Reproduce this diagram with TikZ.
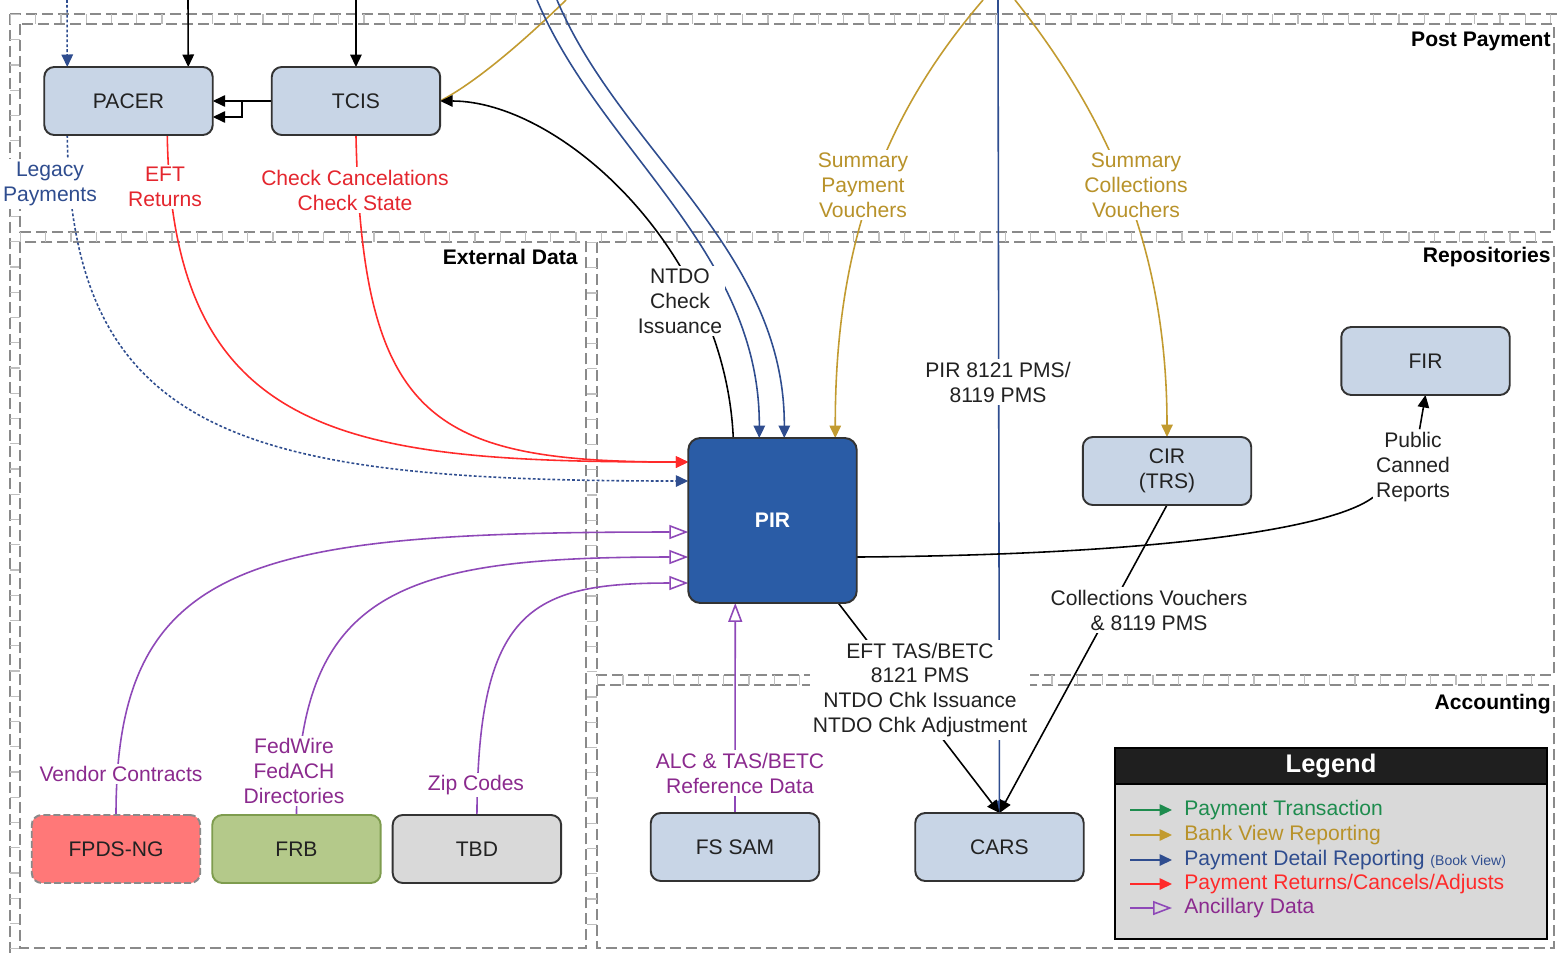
\documentclass[tikz,border=0pt]{standalone}
\usepackage{fontspec}
\setmainfont{Liberation Sans}
\usetikzlibrary{arrows.meta,calc,positioning}

\definecolor{boxfill}{HTML}{C8D5E6}
\definecolor{boxline}{HTML}{333333}
\definecolor{pirblue}{HTML}{2A5CA6}
\definecolor{goldline}{HTML}{C29B30}
\definecolor{goldtext}{HTML}{B8922A}
\definecolor{navyline}{HTML}{2F4D8F}
\definecolor{retred}{HTML}{FF2A2A}
\definecolor{rettext}{HTML}{E4262E}
\definecolor{ancline}{HTML}{8E48B8}
\definecolor{anctext}{HTML}{8B2A8E}
\definecolor{paygreen}{HTML}{1E8C4E}
\definecolor{fpdsred}{HTML}{FF7878}
\definecolor{frbgreen}{HTML}{B4C98A}
\definecolor{frbline}{HTML}{7E9C4E}
\definecolor{tbdgray}{HTML}{D9D9D9}
\definecolor{lanegray}{HTML}{8A8A8A}
\definecolor{textgray}{HTML}{222222}

\pgfdeclarelayer{background}
\pgfsetlayers{background,main}

\newcommand\diagfont{\fontsize{12}{14.2}\selectfont}

\tikzset{
  box/.style={draw=boxline, fill=boxfill, line width=1.1pt, rounded corners=0.2cm,
    minimum width=3.37cm, minimum height=1.36cm, inner sep=2pt, outer sep=0pt, align=center,
    text=textgray, font=\diagfont},
  flowlbl/.style={fill=white, inner sep=1.5pt, align=center, text=textgray, font=\diagfont},
  lanelbl/.style={anchor=east, inner sep=0pt, font=\diagfont\bfseries},
  lane/.style={draw=lanegray, line width=0.9pt, dash pattern=on 0.22cm off 0.1cm},
  rung/.style={draw=lanegray!55, line width=0.2cm, dash pattern=on 0.025cm off 0.48cm},
  conn/.style={line width=0.9pt, -{Triangle[length=0.25cm,width=0.23cm]}},
  dotty/.style={dash pattern=on 1.6pt off 1.2pt},
  anc/.style={line width=0.9pt, ancline, -{Triangle[open,length=0.38cm,width=0.28cm]}},
  legtxt/.style={anchor=west, inner sep=0pt, font=\diagfont}
}

\begin{document}
\begin{tikzpicture}[x=0.02cm,y=-0.02cm]
\useasboundingbox (0,0) rectangle (1557,953);

% systems
\node (pacer) [box] at (128.5,101) {PACER};
\node (tcis) [box, right=59 of pacer] {TCIS};
\node (pir) [box, fill=pirblue, text=white, font=\diagfont\bfseries, rounded corners=0.24cm,
  minimum height=3.3cm] at (772.5,520.5) {PIR};
\node (cir) [box] at (1167,471) {CIR\\(TRS)};
\node (fir) [box] at (1425.5,361) {FIR};
\node (fpds) [box, fill=fpdsred, draw=lanegray, dash pattern=on 0.14cm off 0.06cm] at (116,849) {FPDS-NG};
\node (frb) [box, fill=frbgreen, draw=frbline, right=12 of fpds] {FRB};
\node (tbd) [box, fill=tbdgray, right=12 of frb] {TBD};
\node (fssam) [box] at (735,847) {FS SAM};
\node (cars) [box, right=96 of fssam] {CARS};

% flow labels
\node (lblLegacy) [flowlbl, text=navyline] at (50,184) {Legacy\\Payments};
\node (lblEFTRet) [flowlbl, text=rettext] at (165,187) {EFT\\Returns};
\node (lblChk) [flowlbl, text=rettext] at (355,190) {Check Cancelations\\Check State};
\node (lblNTDO) [flowlbl] at (680,301) {NTDO\\Check\\Issuance};
\node (lblSPV) [flowlbl, text=goldtext] at (863,185) {Summary\\Payment\\Vouchers};
\node (lblSCV) [flowlbl, text=goldtext] at (1136,185) {Summary\\Collections\\Vouchers};
\node (lblPIR8121) [flowlbl] at (998,382) {PIR 8121 PMS/\\8119 PMS};
\node (lblPublic) [flowlbl] at (1413,467) {Public\\Canned\\Reports};
\node (lblCollV) [flowlbl] at (1149,610) {Collections Vouchers\\\& 8119 PMS};
\node (lblEFTTAS) [flowlbl] at (920,690) {EFT TAS/BETC\\8121 PMS\\NTDO Chk Issuance\\NTDO Chk Adjustment};
\node (lblVendor) [flowlbl, text=anctext] at (121,774) {Vendor Contracts};
\node (lblFed) [flowlbl, text=anctext] at (294,771) {FedWire\\FedACH\\Directories};
\node (lblZip) [flowlbl, text=anctext] at (476,785) {Zip Codes};
\node (lblALC) [flowlbl, text=anctext] at (740,773) {ALC \& TAS/BETC\\Reference Data};

% lane titles
\node (postPay) [lanelbl] at (1551,41) {Post Payment};
\node (extData) [lanelbl] at (578,257) {External Data};
\node (repos) [lanelbl] at (1551,257) {Repositories};
\node (acct) [lanelbl] at (1551,704) {Accounting};

% legend
\node (legend) [draw=black, line width=1.2pt, fill=tbdgray, minimum width=8.64cm,
  minimum height=3.82cm, anchor=north west] at (1114,747) {};
\node (legHead) [draw=black, line width=1.2pt, fill=black!88, text=white, minimum width=8.64cm,
  minimum height=0.7cm, anchor=north west, font=\fontsize{14.5}{16}\selectfont\bfseries]
  at (1114,747) {Legend};
\node (lgPay) [legtxt, text=paygreen] at (1184,810) {Payment Transaction};
\node (lgBank) [legtxt, text=goldtext] at (1184,835) {Bank View Reporting};
\node (lgDet) [legtxt, text=navyline] at (1184,860) {Payment Detail Reporting {\fontsize{8}{9}\selectfont (Book View)}};
\node (lgRet) [legtxt, text=retred] at (1184,884) {Payment Returns/Cancels/Adjusts};
\node (lgAnc) [legtxt, text=anctext] at (1184,908) {Ancillary Data};
\draw[conn, paygreen] ($(lgPay.west)+(-54,0)$) -- ($(lgPay.west)+(-12,0)$);
\draw[conn, goldline] ($(lgBank.west)+(-54,0)$) -- ($(lgBank.west)+(-12,0)$);
\draw[conn, navyline] ($(lgDet.west)+(-54,0)$) -- ($(lgDet.west)+(-12,0)$);
\draw[conn, retred] ($(lgRet.west)+(-54,0)$) -- ($(lgRet.west)+(-12,0)$);
\draw[anc] ($(lgAnc.west)+(-54,0)$) -- ($(lgAnc.west)+(-12,0)$);

% off-page sources
\coordinate (srcLeg) at (67,0);
\coordinate (srcPac) at (188,0);
\coordinate (srcTcis) at (356,0);
\coordinate (srcNavyA) at (537,0);
\coordinate (srcNavyB) at (557,0);
\coordinate (srcGoldT) at (566,0);
\coordinate (srcGoldP) at (983,0);
\coordinate (srcGoldC) at (1015,0);
\coordinate (srcPir) at (998,0);

\begin{pgfonlayer}{background}
\fill[white] (0,0) rectangle (1557,953);

% swimlanes
\draw[lane] (10,14) -- (1557,14);
\draw[lane] (10,14) -- (10,953);
\draw[rung] (10,19) -- (1557,19);
\draw[rung] (15,14) -- (15,953);
\draw[lane] (20,24) rectangle (1554,232);
\draw[lane] (20,242) rectangle (586,948);
\draw[lane] (597,242) rectangle (1554,675);
\draw[lane] (597,685) rectangle (1554,948);
\draw[rung] (20,237) -- (1554,237);
\draw[rung] (591.5,242) -- (591.5,948);
\draw[rung] (597,680) -- (1554,680);

% flows
\draw[conn, navyline, dotty] (srcLeg) -- ($(pacer.north west)+(23,0)$);
\draw[conn] (srcPac) -- ($(pacer.north west)+(144,0)$);
\draw[conn] (srcTcis) -- (tcis.north);
\draw[conn] (tcis.west) -- (pacer.east);
\draw[conn] ($(tcis.west)+(-30,0)$) |- ($(pacer.east)+(0,16)$);
\draw[line width=0.9pt, goldline] (tcis.east) .. controls (480,80) and (530,35) .. (srcGoldT);
\draw[conn] ($(pir.north west)+(45,0)$) .. controls (725,250) and (560,101) .. (tcis.east);
\draw[conn, navyline] (srcNavyA) .. controls (600,150) and (760,250) .. ($(pir.north west)+(71,0)$);
\draw[conn, navyline] (srcNavyB) .. controls (620,150) and (785,250) .. ($(pir.north west)+(96,0)$);
\draw[conn, goldline] (srcGoldP) .. controls (880,120) and (835,250) .. ($(pir.north west)+(147,0)$);
\draw[conn, goldline] (srcGoldC) .. controls (1110,120) and (1167,250) .. (cir.north);
\draw[conn, navyline] (srcPir) -- (cars.north);
\draw[conn, retred] ($(pacer.south west)+(123,0)$) .. controls (172,440) and (350,462) .. ($(pir.north west)+(0,24)$);
\draw[conn, retred] (tcis.south) .. controls (362,420) and (430,462) .. ($(pir.north west)+(0,24)$);
\draw[conn, navyline, dotty] ($(pacer.south west)+(23,0)$) .. controls (70,440) and (250,481) .. ($(pir.north west)+(0,43)$);
\draw[anc] (fpds.north) .. controls (116,560) and (250,532) .. ($(pir.north west)+(0,94)$);
\draw[anc] (frb.north) .. controls (298,590) and (400,557) .. ($(pir.north west)+(0,119)$);
\draw[anc] (tbd.north) .. controls (478,610) and (530,583) .. ($(pir.north west)+(0,145)$);
\draw[anc] (fssam.north) -- ($(pir.south west)+(47,0)$);
\draw[conn] ($(pir.south west)+(150,0)$) -- (cars.north);
\draw[conn] (cir.south) -- (cars.north);
\draw[conn] ($(pir.north east)+(0,119)$) .. controls (1150,555) and (1330,530) .. (lblPublic) -- (fir.south);
\end{pgfonlayer}
\end{tikzpicture}
\end{document}
